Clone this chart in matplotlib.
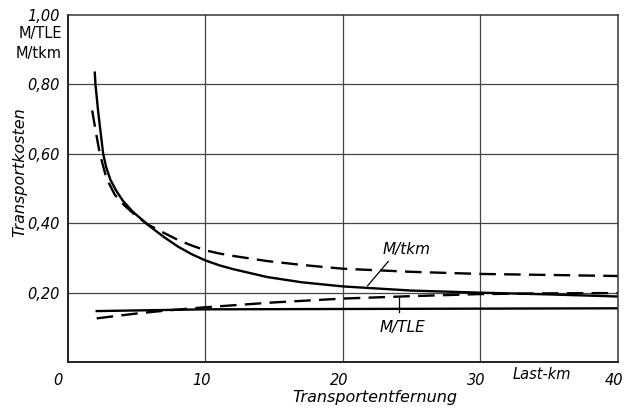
import matplotlib
matplotlib.use("Agg")
import matplotlib.pyplot as plt
from matplotlib import font_manager
import matplotlib.transforms as mtransforms

# ---- data ----
tkm_solid_x = [1.96, 2.01, 2.21, 2.57, 2.8, 3.1, 3.5, 4.0, 4.7, 5.9, 7.0, 8.0, 9.0, 10.0, 11.0, 12.0, 14.5, 17, 20, 25, 30, 35, 40]
tkm_solid_y = [0.834, 0.80, 0.72, 0.60, 0.56, 0.525, 0.495, 0.465, 0.434, 0.393, 0.36, 0.333, 0.311, 0.293, 0.279, 0.268, 0.245, 0.230, 0.218, 0.206, 0.200, 0.195, 0.189]

tkm_dash_x = [1.77, 2.05, 2.33, 2.81, 3.42, 4.1, 5.0, 5.84, 7.0, 8.0, 9.0, 10.0, 11.0, 12.0, 14.5, 17, 20, 25, 30, 35, 40]
tkm_dash_y = [0.725, 0.66, 0.60, 0.529, 0.482, 0.452, 0.42, 0.396, 0.372, 0.352, 0.336, 0.322, 0.313, 0.306, 0.291, 0.28, 0.269, 0.26, 0.254, 0.251, 0.248]

tle_solid_x = [2.1, 10, 20, 30, 40]
tle_solid_y = [0.147, 0.152, 0.153, 0.154, 0.155]

tle_dash_x = [2.1, 5, 7, 10, 15, 20, 25, 30, 35, 40]
tle_dash_y = [0.126, 0.14, 0.148, 0.158, 0.172, 0.183, 0.19, 0.196, 0.198, 0.199]

x_ticks = [0, 10, 20, 30, 40]
x_tick_labels = ["0", "10", "20", "30", "40"]
y_ticks = [0.2, 0.4, 0.6, 0.8, 1.0]
y_tick_labels = ["0,20", "0,40", "0,60", "0,80", "1,00"]

# ---- font ----
avail = {f.name for f in font_manager.fontManager.ttflist}
fam = "Liberation Sans Narrow" if "Liberation Sans Narrow" in avail else "DejaVu Sans"
plt.rcParams["font.family"] = [fam, "DejaVu Sans"]
plt.rcParams["font.style"] = "italic"

fig = plt.figure(figsize=(6.28, 4.11), dpi=100)
ax = fig.add_axes([0.108, 0.119, 0.876, 0.8445])
ax.set_xlim(0, 40)
ax.set_ylim(0, 1.0)

ax.plot(tkm_solid_x, tkm_solid_y, color="black", lw=1.7, solid_joinstyle="round")
ax.plot(tkm_dash_x, tkm_dash_y, color="black", lw=1.7, dashes=(7, 3.5))
ax.plot(tle_solid_x, tle_solid_y, color="black", lw=1.7)
ax.plot(tle_dash_x, tle_dash_y, color="black", lw=1.7, dashes=(7, 3.5))

# grid
for yv in [0.2, 0.4, 0.6, 0.8]:
    ax.axhline(yv, color="#444444", lw=0.9, zorder=0)
for xv in [10, 20, 30]:
    ax.axvline(xv, color="#444444", lw=0.9, zorder=0)

for s in ["left", "bottom"]:
    ax.spines[s].set_linewidth(1.4)
    ax.spines[s].set_color("#222222")
for s in ["top", "right"]:
    ax.spines[s].set_linewidth(1.1)
    ax.spines[s].set_color("#333333")

ax.set_xticks(x_ticks)
ax.set_xticklabels(x_tick_labels, fontsize=10.5, style="italic")
ax.set_yticks(y_ticks)
ax.set_yticklabels(y_tick_labels, fontsize=10.5, style="italic")
ax.tick_params(length=0, pad=6)
ax.tick_params(axis="x", pad=8)

off = mtransforms.ScaledTranslation(-4 / 100, 0, fig.dpi_scale_trans)
for i, lab in enumerate(ax.get_xticklabels()):
    if i == 0:
        lab.set_transform(lab.get_transform() + mtransforms.ScaledTranslation(-10 / 100, 0, fig.dpi_scale_trans))
    else:
        lab.set_transform(lab.get_transform() + off)

ax.text(34.5, -0.037, "Last-km", ha="center", va="center", fontsize=10.5, style="italic",
        clip_on=False)
ax.text(-0.45, 0.947, "M/TLE", ha="right", va="center", fontsize=10.5, style="normal",
        clip_on=False)
ax.text(-0.45, 0.89, "M/tkm", ha="right", va="center", fontsize=10.5, style="normal",
        clip_on=False)

fig.text(375 / 628, 1 - 397 / 411, "Transportentfernung", ha="center", va="center",
         fontsize=11.5, style="italic")
fig.text(20 / 628, 1 - 172 / 411, "Transportkosten", ha="center", va="center",
         rotation=90, fontsize=11.5, style="italic")

# annotations
ax.text(24.6, 0.325, "M/tkm", ha="center", va="center", fontsize=11, style="italic")
ax.plot([23.3, 21.8], [0.29, 0.22], color="black", lw=0.9)
ax.text(24.3, 0.10, "M/TLE", ha="center", va="center", fontsize=11, style="italic")
ax.plot([24.1, 24.1], [0.185, 0.145], color="black", lw=0.9)

fig.savefig("out.png", dpi=100)
